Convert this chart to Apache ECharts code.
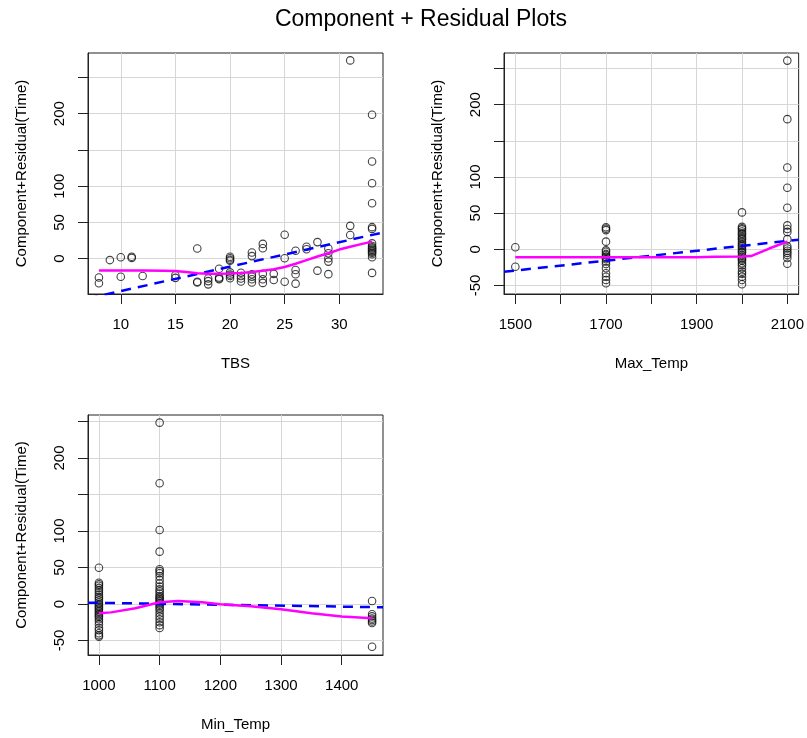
<!DOCTYPE html>
<html><head><meta charset="utf-8">
<script src="https://cdn.jsdelivr.net/npm/echarts@6/dist/echarts.min.js"></script>
<style>html,body{margin:0;padding:0;background:#fff}#c{width:807px;height:738px}</style>
</head><body><div id="c"></div>
<script>
// ---------- Panel 1: TBS ----------
const tbsLevels = [8, 9, 10, 11, 12, 15, 17, 18, 19, 20, 21, 22, 23, 24, 25, 26, 27, 28, 29, 31, 33];
const tbsCR = [
  [-26, -34],
  [-2],
  [2, -25],
  [2.5, 1],
  [-24],
  [-23, -26.5],
  [14, -32, -33],
  [-27.5, -31, -35.5],
  [-14, -26, -27.5, -28.5],
  [2.5, 0.5, -1.5, -3, -19, -22, -24, -27],
  [-19.5, -24, -27.5, -31.5],
  [8.5, 3.5, -21.5, -25, -28.5, -33],
  [20.3, 14.4, -21, -28.5, -33.5],
  [-21, -29.4],
  [33, 0.5, -31.8],
  [10.8, -15.6, -21.5, -34.5],
  [16.3, 13],
  [22.8, -16.6],
  [14, 7.5, 0.5, -4.1, -21.4],
  [273.5, 45.2, 32.7],
  [198.5, 134, 104.1, 76.5, 43.4, 41, 21, 17.5, 15.5, 14, 12.5, 11, 9.5, 8, 6, 2, -19.7]
];
const tbsSmoothX = [8, 10, 12, 14, 15, 16, 17, 18, 19, 20, 21, 22, 23, 24, 25, 26, 27, 28, 29, 30, 31, 32, 33];
const tbsSmoothY = [-16.3, -16.3, -16.3, -16.6, -17, -18.5, -20.2, -21, -21, -20.5, -19.8, -18.5, -16.8, -14.6, -11.5, -7, -2, 3, 7.5, 12.5, 16.5, 20, 23.5];
const tbsFitX = [7, 34];
const tbsFitY = [-54.9, 36.1];
const tbsXTicks = [10, 15, 20, 25, 30];
const tbsXLabels = [10, 15, 20, 25, 30];
const tbsYTicks = [0, 50, 100, 150, 200, 250];
const tbsYLabels = [0, 50, 100, 200];

// ---------- Panel 2: Max_Temp ----------
const maxLevels = [1500, 1700, 2000, 2100];
const maxCR = [
  [2.8, -24.1],
  [30.5, 28.5, 26.5, 10.5, -1.5, -3.5, -6.5, -8, -10.2, -12, -13.9, -17, -20.4, -26.3, -33.2, -38, -42.5, -47.1],
  [51, 31, 29, 27.5, 24.5, 22, 20.5, 17.5, 15, 13.9, 10.5, 8, 6, 4, 1.4, -1, -3.3, -5, -7.9, -10, -12.5, -14, -16, -19.4, -22, -26.3, -31, -34, -37.9, -42.5, -48.5],
  [261, 180, 113, 85, 57.5, 33, 28, 24, 14, 4, 1, -2, -5, -8, -12, -20]
];
const maxSmoothX = [1500, 1600, 1700, 1800, 1900, 1940, 2000, 2020, 2060, 2100];
const maxSmoothY = [-11, -11, -11, -11, -11, -10.3, -10, -9.5, 1, 10.5];
const maxFitX = [1475, 2125];
const maxFitY = [-31.1, 13.2];
const maxXTicks = [1500, 1600, 1700, 1800, 1900, 2000, 2100];
const maxXLabels = [1500, 1700, 1900, 2100];
const maxYTicks = [-50, 0, 50, 100, 150, 200, 250];
const maxYLabels = [-50, 0, 50, 100, 200];

// ---------- Panel 3: Min_Temp ----------
const minLevels = [1000, 1100, 1450];
const minCR = [
  [49.7, 29, 27, 25, 22, 19, 16, 13, 10, 8, 5, 2, 0, -2, -4, -6, -8, -10, -12, -14, -16, -18, -21, -24, -28, -33, -36, -40, -43, -45],
  [248.4, 165.3, 101.4, 71.7, 47.5, 45, 42, 38, 33, 28, 24, 20, 17, 14, 11, 9, 7, 5, 3, 1, -1, -3, -6, -9, -13, -17, -21, -25, -29, -33],
  [4.1, -14, -17, -20, -22, -24, -26, -58.5]
];
const minSmoothX = [1000, 1020, 1060, 1100, 1130, 1170, 1200, 1250, 1300, 1350, 1400, 1450];
const minSmoothY = [-12.8, -11.5, -5.9, 2.3, 4.1, 2.3, -0.5, -3.2, -7.3, -12.8, -17.3, -19.6];
const minFitX = [982, 1468];
const minFitY = [1.8, -4.5];
const minXTicks = [1000, 1100, 1200, 1300, 1400];
const minXLabels = [1000, 1100, 1200, 1300, 1400];
const minYTicks = [-50, 0, 50, 100, 150, 200, 250];
const minYLabels = [-50, 0, 50, 100, 200];

const yTitle = 'Component+Residual(Time)';
const mainTitle = 'Component + Residual Plots';

// ---------- build ----------
const FONT = '"Liberation Sans", Arial, Helvetica, sans-serif';
function pts(levels, groups) { const out = []; levels.forEach((x, i) => groups[i].forEach(y => out.push([x, y]))); return out; }
function pairs(xs, ys) { return xs.map((x, i) => [x, ys[i]]); }

const panels = [
  { name: 'TBS', grid: { left: 88, top: 53, width: 295, height: 241 }, x: [7, 34], y: [-48.8, 283.7],
    xt: tbsXTicks, xl: tbsXLabels, yt: tbsYTicks, yl: tbsYLabels,
    pts: pts(tbsLevels, tbsCR), smooth: pairs(tbsSmoothX, tbsSmoothY), fit: pairs(tbsFitX, tbsFitY) },
  { name: 'Max_Temp', grid: { left: 504, top: 53, width: 295, height: 241 }, x: [1475, 2125], y: [-61.9, 271.5],
    xt: maxXTicks, xl: maxXLabels, yt: maxYTicks, yl: maxYLabels,
    pts: pts(maxLevels, maxCR), smooth: pairs(maxSmoothX, maxSmoothY), fit: pairs(maxFitX, maxFitY) },
  { name: 'Min_Temp', grid: { left: 88, top: 415, width: 295, height: 240 }, x: [982, 1468], y: [-69.9, 258.9],
    xt: minXTicks, xl: minXLabels, yt: minYTicks, yl: minYLabels,
    pts: pts(minLevels, minCR), smooth: pairs(minSmoothX, minSmoothY), fit: pairs(minFitX, minFitY) }
];

const txt = { fontFamily: FONT, fontSize: 15, color: '#000' };
const plain = v => String(v);
const grid = [], xAxis = [], yAxis = [], series = [];
panels.forEach((p, i) => {
  grid.push(Object.assign({ show: true, borderColor: '#222', borderWidth: 1, backgroundColor: 'transparent' }, p.grid));
  xAxis.push({
    type: 'value', gridIndex: i, min: p.x[0], max: p.x[1],
    name: p.name, nameLocation: 'middle', nameGap: 62, nameTextStyle: txt,
    axisLine: { show: true, onZero: false, lineStyle: { color: '#222', width: 1 } },
    axisTick: { show: true, length: 10, lineStyle: { color: '#222', width: 1 }, customValues: p.xt },
    axisLabel: Object.assign({ customValues: p.xl, margin: 23, formatter: plain }, txt),
    splitLine: { show: true, lineStyle: { color: '#d6d6d6', width: 1 } }
  });
  yAxis.push({
    type: 'value', gridIndex: i, min: p.y[0], max: p.y[1],
    name: yTitle, nameLocation: 'middle', nameGap: 59, nameTextStyle: txt,
    axisLine: { show: true, onZero: false, lineStyle: { color: '#222', width: 1 } },
    axisTick: { show: true, length: 10, lineStyle: { color: '#222', width: 1 }, customValues: p.yt },
    axisLabel: Object.assign({ customValues: p.yl, margin: 21, rotate: 90, formatter: plain }, txt),
    splitLine: { show: true, lineStyle: { color: '#d6d6d6', width: 1 } }
  });
  series.push({
    type: 'scatter', xAxisIndex: i, yAxisIndex: i, data: p.pts, symbol: 'circle', symbolSize: 7.5,
    itemStyle: { color: 'transparent', borderColor: '#111', borderWidth: 1.1 }, z: 2
  });
  series.push({
    type: 'line', xAxisIndex: i, yAxisIndex: i, data: p.fit, showSymbol: false, symbol: 'none', clip: true,
    lineStyle: { color: '#0000ff', width: 2.5, type: [10, 7] }, z: 3
  });
  series.push({
    type: 'line', xAxisIndex: i, yAxisIndex: i, data: p.smooth, showSymbol: false, symbol: 'none', clip: true,
    lineStyle: { color: '#ff00ff', width: 2.5 }, z: 4
  });
});

const chart = echarts.init(document.getElementById('c'), null, { renderer: 'canvas' });
chart.setOption({
  animation: false,
  backgroundColor: '#fff',
  graphic: [{ type: 'text', x: 421, y: 20, style: { text: mainTitle, font: '23px ' + FONT, fill: '#000', align: 'center', verticalAlign: 'middle' } }],
  grid, xAxis, yAxis, series
});
</script></body></html>
